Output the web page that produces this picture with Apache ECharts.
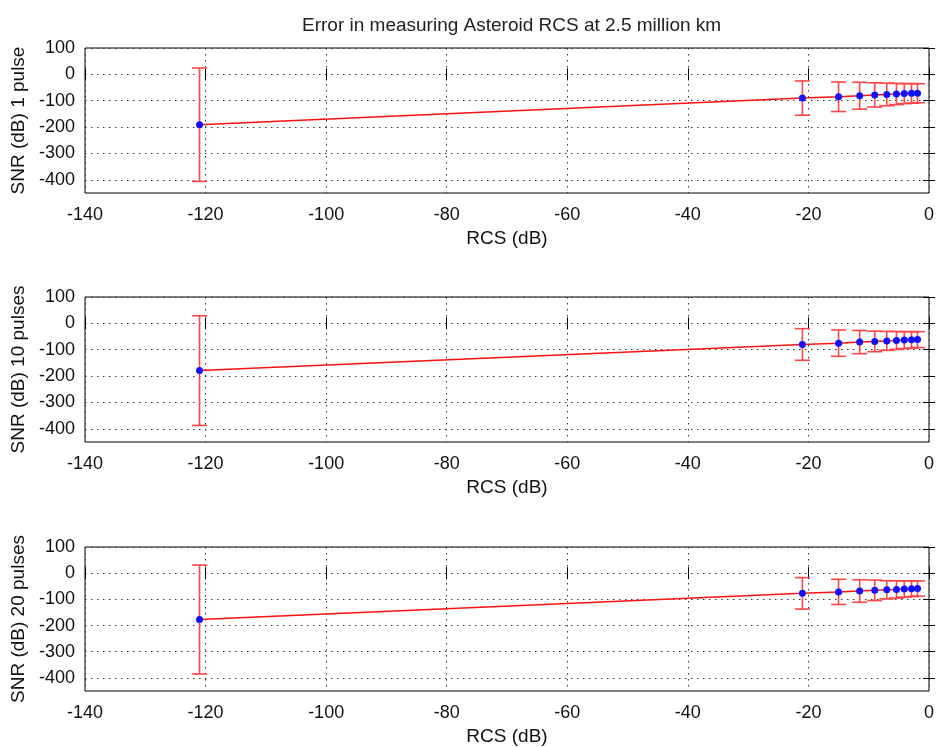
<!DOCTYPE html>
<html>
<head>
<meta charset="utf-8">
<title>Asteroid RCS measurement error</title>
<script src="https://cdn.jsdelivr.net/npm/echarts@6/dist/echarts.min.js"></script>
<style>
  html, body { margin: 0; padding: 0; background: #fff; }
  #chart { width: 938px; height: 747px; }
</style>
</head>
<body>
<div id="chart"></div>
<script>
// Radar cross section of each test target (dB)
const rcs = [-121, -21, -15, -11.5, -9, -7, -5.4, -4.1, -2.9, -1.9];

// Mean SNR (dB) and its error half-width for each pulse count
const snr1 = [-191, -90, -85, -81, -78, -76, -74.5, -73, -72, -71.5];
const err1 = [215, 65, 56, 51, 46, 43, 40, 38, 37, 36];
const snr10 = [-179, -80, -75, -71, -68.5, -66.5, -65, -63.5, -62.5, -61.5];
const err10 = [208, 60, 50, 44, 39, 36, 34, 32, 31, 30];
const snr20 = [-177, -77, -71.5, -68, -65.5, -63.5, -62, -60.5, -59.5, -58.5];
const err20 = [208, 60, 48, 43, 39, 35, 33, 31, 30, 29];

const panelNames = ['SNR (dB) 1 pulse', 'SNR (dB) 10 pulses', 'SNR (dB) 20 pulses'];
const yTickValues = [100, 0, -100, -200, -300, -400];
const xTickStep = 20;

const panels = [
  { snr: snr1, err: err1 },
  { snr: snr10, err: err10 },
  { snr: snr20, err: err20 }
];

const FONT = 'Liberation Sans, Arial, sans-serif';
const tickFont = { fontFamily: FONT, fontSize: 18, color: '#111' };
const nameFont = { fontFamily: FONT, fontSize: 19, color: '#111' };
const gridTops = [48, 297, 547];
const dotted = { color: '#333', width: 1, type: [1.5, 4.5] };

const grids = [], xAxes = [], yAxes = [], series = [];

panels.forEach((p, i) => {
  grids.push({
    left: 85, right: 9, top: gridTops[i], height: 145,
    show: true, borderColor: '#000', borderWidth: 1, backgroundColor: 'transparent'
  });

  // bottom axis with labels, top axis mirrors the ticks
  xAxes.push({
    type: 'value', gridIndex: i, position: 'bottom', min: -140, max: 0, interval: xTickStep,
    name: 'RCS (dB)', nameLocation: 'middle', nameGap: 36,
    nameTextStyle: nameFont,
    axisLine: { show: false },
    axisTick: { show: true, inside: true, length: 6, lineStyle: { color: '#000' } },
    axisLabel: Object.assign({ margin: 13 }, tickFont),
    splitLine: { show: true, lineStyle: dotted }
  });
  xAxes.push({
    type: 'value', gridIndex: i, position: 'top', min: -140, max: 0, interval: xTickStep,
    axisLine: { show: false },
    axisTick: { show: true, inside: true, length: 6, lineStyle: { color: '#000' } },
    axisLabel: { show: false }, splitLine: { show: false }
  });

  yAxes.push({
    type: 'value', gridIndex: i, position: 'left', min: -450, max: 100,
    name: panelNames[i], nameLocation: 'middle', nameGap: 51, nameRotate: 90,
    nameTextStyle: nameFont,
    axisLine: { show: false },
    axisTick: { show: true, inside: true, length: 6, lineStyle: { color: '#000' }, customValues: yTickValues },
    axisLabel: Object.assign({ margin: 10, customValues: yTickValues }, tickFont),
    splitLine: { show: true, lineStyle: dotted }
  });
  yAxes.push({
    type: 'value', gridIndex: i, position: 'right', min: -450, max: 100,
    axisLine: { show: false },
    axisTick: { show: true, inside: true, length: 6, lineStyle: { color: '#000' }, customValues: yTickValues },
    axisLabel: { show: false }, splitLine: { show: false }
  });

  const xIdx = i * 2, yIdx = i * 2;
  const pts = rcs.map((x, k) => [x, p.snr[k]]);
  const bars = rcs.map((x, k) => [x, p.snr[k] - p.err[k], p.snr[k] + p.err[k]]);

  // vertical error bars with end caps
  series.push({
    type: 'custom', xAxisIndex: xIdx, yAxisIndex: yIdx, z: 2,
    data: bars,
    encode: { x: 0, y: [1, 2] },
    renderItem: function (params, api) {
      const x = api.value(0);
      const lo = api.coord([x, api.value(1)]);
      const hi = api.coord([x, api.value(2)]);
      const half = 7.5;
      const style = { stroke: '#ff4545', lineWidth: 1.6 };
      return {
        type: 'group',
        children: [
          { type: 'line', shape: { x1: hi[0], y1: hi[1], x2: lo[0], y2: lo[1] }, style: style },
          { type: 'line', shape: { x1: hi[0] - half, y1: hi[1], x2: hi[0] + half, y2: hi[1] }, style: style },
          { type: 'line', shape: { x1: lo[0] - half, y1: lo[1], x2: lo[0] + half, y2: lo[1] }, style: style }
        ]
      };
    }
  });
  series.push({
    type: 'line', xAxisIndex: xIdx, yAxisIndex: yIdx, z: 3,
    data: pts, showSymbol: false, symbol: 'none',
    lineStyle: { color: '#ff1010', width: 1.5 }
  });
  series.push({
    type: 'scatter', xAxisIndex: xIdx, yAxisIndex: yIdx, z: 4,
    data: pts, symbol: 'circle', symbolSize: 7,
    itemStyle: { color: '#1010ff', opacity: 1 }
  });
});

const chart = echarts.init(document.getElementById('chart'), null, { renderer: 'canvas' });
chart.setOption({
  animation: false,
  backgroundColor: '#fff',
  title: {
    text: 'Error in measuring Asteroid RCS at 2.5 million km',
    left: 297, top: 11,
    textStyle: { fontFamily: FONT, fontSize: 19, fontWeight: 'normal', color: '#222' }
  },
  grid: grids,
  xAxis: xAxes,
  yAxis: yAxes,
  series: series
});
</script>
</body>
</html>
